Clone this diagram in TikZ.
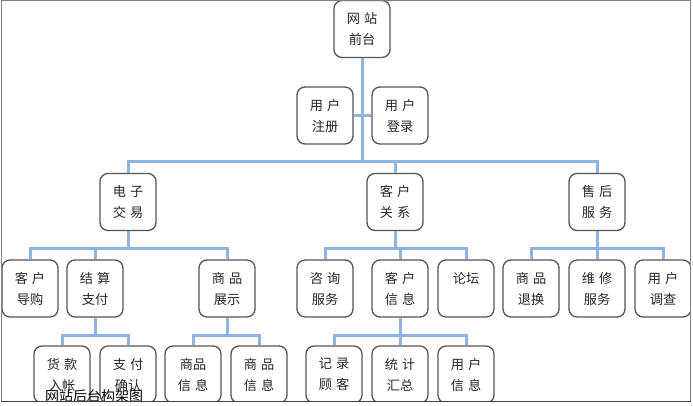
\documentclass[tikz,border=0pt]{standalone}
\usepackage{fontspec}
\newfontfamily\cjk{Noto Sans CJK SC}
\usepackage{xcolor}
\usepackage{tikz}
\usetikzlibrary{
	positioning,
	calc
}
\definecolor{linkblue}{RGB}{142,180,227}
\definecolor{boxgray}{RGB}{85,85,85}
\newcommand{\kg}{\hspace{4pt}}

\begin{document}
\begin{tikzpicture}[x=1pt, y=-1pt,
		box/.style={draw=boxgray, fill=white, line width=1.3pt, rounded corners=8pt, minimum width=56pt, minimum height=57pt, inner sep=0pt, align=center, text=black!85, font=\cjk\fontsize{13.2}{21}\selectfont},
		link/.style={draw=linkblue, line width=3pt}]
		\useasboundingbox (0,0) rectangle (693,406);
		\begin{scope}
		\clip (1,0) rectangle (690.5,401.5);
		% 第一层
		\node[box] (wzqt) at (362,29) {网\kg 站\\前台};
		\node[box] (yhzc) at (325,115.5) {用\kg 户\\注册};
		\node[box] (yhdl) at (400,115.5) {用\kg 户\\登录};
		% 第二层
		\node[box] (dzjy) at (128,202) {电\kg 子\\交\kg 易};
		\node[box] (khgx) at (395,202) {客\kg 户\\关\kg 系};
		\node[box] (shfw) at (597,202) {售\kg 后\\服\kg 务};
		% 第三层
		\node[box] (khdg) at (30,288.5) {客\kg 户\\导购};
		\node[box] (jszf) at (95,288.5) {结\kg 算\\支付};
		\node[box] (spzs) at (227,288.5) {商\kg 品\\展示};
		\node[box] (zxfw) at (325,288.5) {咨\kg 询\\服务};
		\node[box] (khxx) at (400,288.5) {客\kg 户\\信\kg 息};
		\node[box] (lt) at (466,288.5) {论坛\\\phantom{论坛}};
		\node[box] (sptf) at (531,288.5) {商\kg 品\\退换};
		\node[box] (wxfw) at (597,288.5) {维\kg 修\\服务};
		\node[box] (yhdc) at (663,288.5) {用\kg 户\\调查};
		% 第四层
		\node[box] (hkrz) at (62,374.5) {货\kg 款\\入帐};
		\node[box] (zfqr) at (128,374.5) {支\kg 付\\确认};
		\node[box] (spxxa) at (193,374.5) {商品\\信\kg 息};
		\node[box] (spxxb) at (259,374.5) {商\kg 品\\信\kg 息};
		\node[box] (jlgk) at (334,374.5) {记\kg 录\\顾\kg 客};
		\node[box] (tjhz) at (400,374.5) {统\kg 计\\汇总};
		\node[box] (yhxx) at (466,374.5) {用\kg 户\\信\kg 息};
		\end{scope}
		% 连线
		\coordinate (zxa) at (0,162);
		\coordinate (zxb) at (0,248);
		\coordinate (zxc) at (0,335);
		\draw[link] (wzqt.south) -- (wzqt.south |- zxa);
		\draw[link] (yhzc.east) -- (yhdl.west);
		\draw[link] (dzjy.north) -- (dzjy.north |- zxa) -- (shfw.north |- zxa) -- (shfw.north);
		\draw[link] (khgx.north) -- (khgx.north |- zxa);
		% 电子交易
		\draw[link] (dzjy.south) -- (dzjy.south |- zxb);
		\draw[link] (khdg.north) -- (khdg.north |- zxb) -- (spzs.north |- zxb) -- (spzs.north);
		\draw[link] (jszf.north) -- (jszf.north |- zxb);
		% 客户关系
		\draw[link] (khgx.south) -- (khgx.south |- zxb);
		\draw[link] (zxfw.north) -- (zxfw.north |- zxb) -- (lt.north |- zxb) -- (lt.north);
		\draw[link] (khxx.north) -- (khxx.north |- zxb);
		% 售后服务
		\draw[link] (shfw.south) -- (shfw.south |- zxb);
		\draw[link] (sptf.north) -- (sptf.north |- zxb) -- (yhdc.north |- zxb) -- (yhdc.north);
		\draw[link] (wxfw.north) -- (wxfw.north |- zxb);
		% 第四层连线
		\draw[link] (jszf.south) -- (jszf.south |- zxc);
		\draw[link] (hkrz.north) -- (hkrz.north |- zxc) -- (zfqr.north |- zxc) -- (zfqr.north);
		\draw[link] (spzs.south) -- (spzs.south |- zxc);
		\draw[link] (spxxa.north) -- (spxxa.north |- zxc) -- (spxxb.north |- zxc) -- (spxxb.north);
		\draw[link] (khxx.south) -- (khxx.south |- zxc);
		\draw[link] (jlgk.north) -- (jlgk.north |- zxc) -- (yhxx.north |- zxc) -- (yhxx.north);
		\draw[link] (tjhz.north) -- (tjhz.north |- zxc);
		% 标题和边框
		\node[font=\cjk\fontsize{14}{14}\selectfont, text=black] (bt) at (94,396) {网站后台构架图};
		\draw[gray] (1,0.5) rectangle (690.5,401.5);
		\draw[black!75, line width=1.4pt] (1,401.5) -- (690.5,401.5);
	\end{tikzpicture}
\end{document}
